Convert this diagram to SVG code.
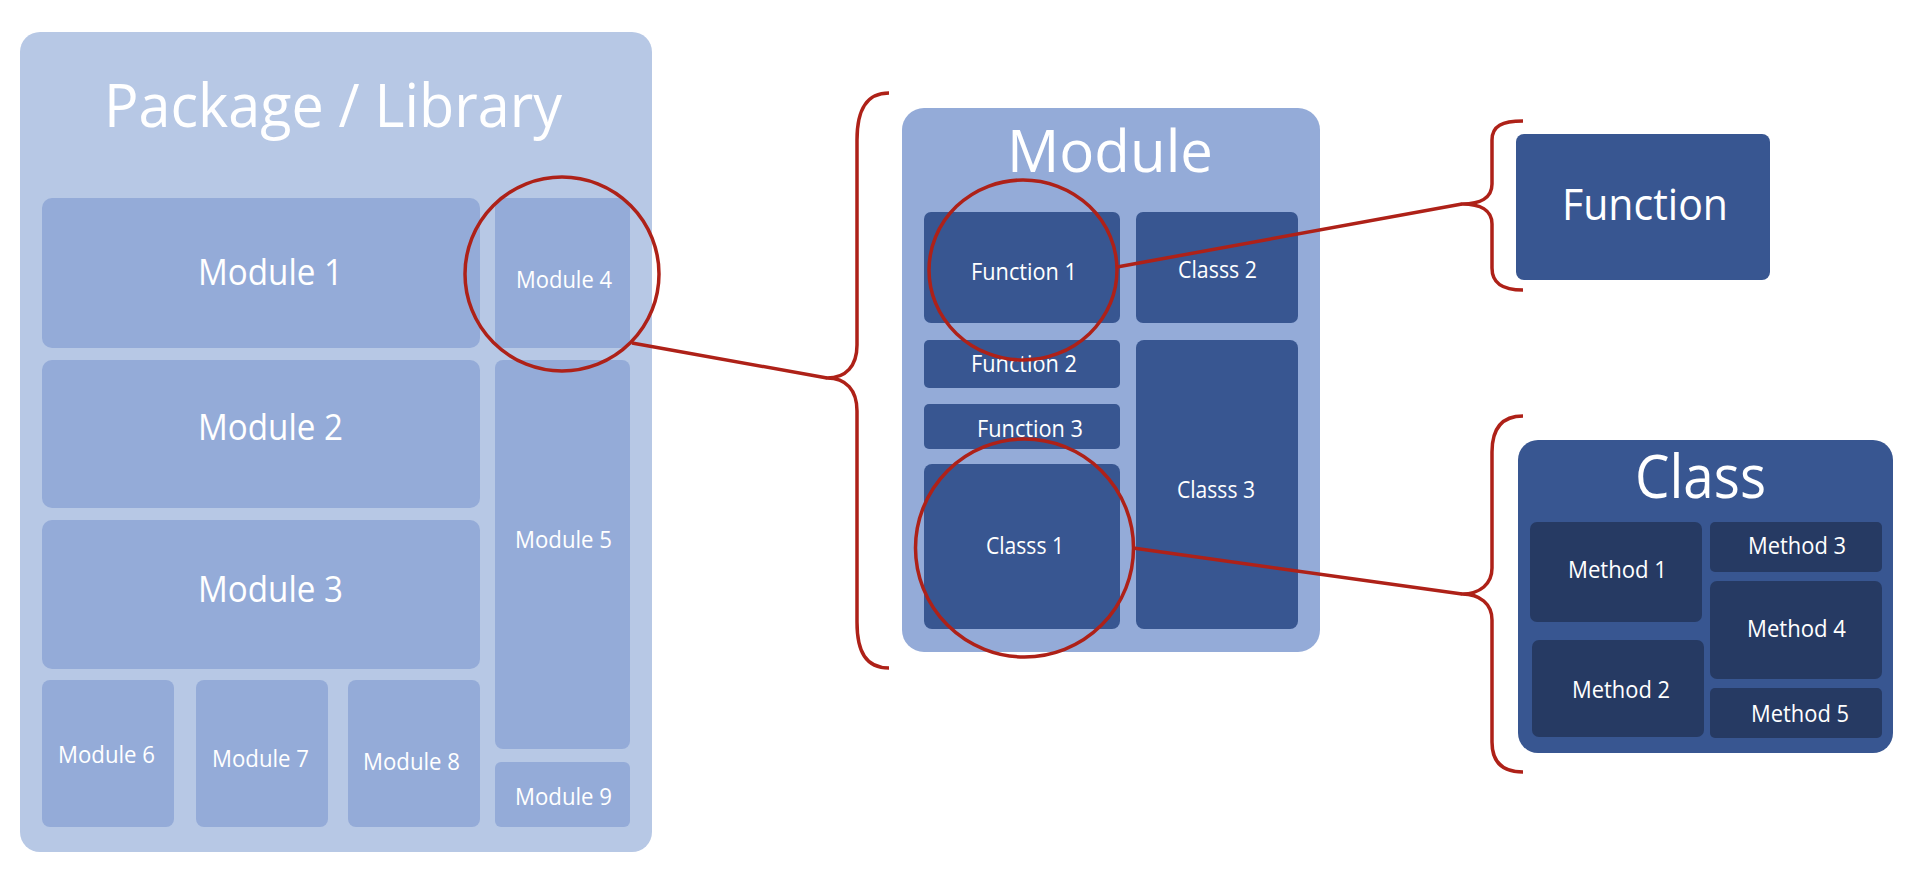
<svg xmlns="http://www.w3.org/2000/svg" width="1918" height="872" viewBox="0 0 1918 872">
<style>
.pkg{fill:#B7C8E5}
.mod{fill:#94ABD8}
.dk{fill:#385691}
.mt{fill:#263A63}
text{font-family:"Open Sans","Noto Sans","Liberation Sans",sans-serif;fill:#FFFFFF}
.s24{font-size:24px}
.s37{font-size:37px}
.big{font-size:60px}
.fn{font-size:44px}
.ln{fill:none;stroke:#AE2118;stroke-width:3.5;stroke-linejoin:round}
</style>
<rect width="1918" height="872" fill="#FFFFFF"/>
<g id="package">
<rect class="pkg" x="20" y="32" width="632" height="820" rx="20"/>
<text class="big" x="104" y="127" textLength="458" lengthAdjust="spacingAndGlyphs">Package / Library</text>
</g>
<g id="module1"><rect class="mod" x="42" y="198" width="438" height="150" rx="10"/><text class="s37" x="198" y="285" textLength="145" lengthAdjust="spacingAndGlyphs">Module 1</text></g>
<g id="module2"><rect class="mod" x="42" y="360" width="438" height="148" rx="10"/><text class="s37" x="198" y="440" textLength="145" lengthAdjust="spacingAndGlyphs">Module 2</text></g>
<g id="module3"><rect class="mod" x="42" y="520" width="438" height="149" rx="10"/><text class="s37" x="198" y="602" textLength="145" lengthAdjust="spacingAndGlyphs">Module 3</text></g>
<g id="module4"><rect class="mod" x="495" y="198" width="135" height="150" rx="8"/><text class="s24" x="516" y="288" textLength="96" lengthAdjust="spacingAndGlyphs">Module 4</text></g>
<g id="module5"><rect class="mod" x="495" y="360" width="135" height="389" rx="8"/><text class="s24" x="515" y="548" textLength="97" lengthAdjust="spacingAndGlyphs">Module 5</text></g>
<g id="module6"><rect class="mod" x="42" y="680" width="132" height="147" rx="8"/><text class="s24" x="58" y="763" textLength="97" lengthAdjust="spacingAndGlyphs">Module 6</text></g>
<g id="module7"><rect class="mod" x="196" y="680" width="132" height="147" rx="8"/><text class="s24" x="212" y="767" textLength="97" lengthAdjust="spacingAndGlyphs">Module 7</text></g>
<g id="module8"><rect class="mod" x="348" y="680" width="132" height="147" rx="8"/><text class="s24" x="363" y="770" textLength="97" lengthAdjust="spacingAndGlyphs">Module 8</text></g>
<g id="module9"><rect class="mod" x="495" y="762" width="135" height="65" rx="6"/><text class="s24" x="515" y="805" textLength="97" lengthAdjust="spacingAndGlyphs">Module 9</text></g>

<g id="module">
<rect class="mod" x="902" y="108" width="418" height="544" rx="22"/>
<text x="1007" y="172" style="font-size:58px" textLength="206" lengthAdjust="spacingAndGlyphs">Module</text>
</g>
<g id="function1"><rect class="dk" x="924" y="212" width="196" height="111" rx="7"/><text class="s24" x="971" y="280" textLength="106" lengthAdjust="spacingAndGlyphs">Function 1</text></g>
<g id="classs2"><rect class="dk" x="1136" y="212" width="162" height="111" rx="7"/><text class="s24" x="1178" y="278" textLength="79" lengthAdjust="spacingAndGlyphs">Classs 2</text></g>
<g id="function2"><rect class="dk" x="924" y="340" width="196" height="48" rx="5"/><text class="s24" x="971" y="372" textLength="106" lengthAdjust="spacingAndGlyphs">Function 2</text></g>
<g id="function3"><rect class="dk" x="924" y="404" width="196" height="45" rx="5"/><text class="s24" x="977" y="437" textLength="106" lengthAdjust="spacingAndGlyphs">Function 3</text></g>
<g id="classs1"><rect class="dk" x="924" y="464" width="196" height="165" rx="8"/><text class="s24" x="986" y="554" textLength="78" lengthAdjust="spacingAndGlyphs">Classs 1</text></g>
<g id="classs3"><rect class="dk" x="1136" y="340" width="162" height="289" rx="8"/><text class="s24" x="1177" y="498" textLength="78" lengthAdjust="spacingAndGlyphs">Classs 3</text></g>

<g id="function">
<rect class="dk" x="1516" y="134" width="254" height="146" rx="8"/>
<text class="fn" x="1562" y="220" textLength="166" lengthAdjust="spacingAndGlyphs">Function</text>
</g>

<g id="class">
<rect class="dk" x="1518" y="440" width="375" height="313" rx="20"/>
<text class="big" x="1635" y="498" textLength="131" lengthAdjust="spacingAndGlyphs">Class</text>
</g>
<g id="method1"><rect class="mt" x="1530" y="522" width="172" height="100" rx="7"/><text class="s24" x="1568" y="578" textLength="99" lengthAdjust="spacingAndGlyphs">Method 1</text></g>
<g id="method2"><rect class="mt" x="1532" y="640" width="172" height="97" rx="7"/><text class="s24" x="1572" y="698" textLength="98" lengthAdjust="spacingAndGlyphs">Method 2</text></g>
<g id="method3"><rect class="mt" x="1710" y="522" width="172" height="50" rx="5"/><text class="s24" x="1748" y="554" textLength="98" lengthAdjust="spacingAndGlyphs">Method 3</text></g>
<g id="method4"><rect class="mt" x="1710" y="581" width="172" height="98" rx="7"/><text class="s24" x="1747" y="637" textLength="99" lengthAdjust="spacingAndGlyphs">Method 4</text></g>
<g id="method5"><rect class="mt" x="1710" y="688" width="172" height="50" rx="5"/><text class="s24" x="1751" y="722" textLength="98" lengthAdjust="spacingAndGlyphs">Method 5</text></g>

<g id="connectors">
<circle class="ln" cx="562" cy="274" r="97"/>
<path class="ln" d="M632,343 L827,378"/>
<path class="ln" d="M889,93 C866,93 857,110 857,140 L857,345 C857,366 846,378 827,378 C846,378 857,390 857,411 L857,622 C857,652 866,668 889,668"/>
<ellipse class="ln" cx="1023" cy="270" rx="94" ry="90"/>
<path class="ln" d="M1117,267 L1462,204"/>
<path class="ln" d="M1523,121 C1502,121 1492,126 1492,140 L1492,184 C1492,198 1480,204 1462,204 C1480,204 1492,210 1492,224 L1492,268 C1492,283 1502,290 1523,290"/>
<circle class="ln" cx="1024.5" cy="548" r="109"/>
<path class="ln" d="M1133,548 L1462,594"/>
<path class="ln" d="M1523,416 C1502,416 1492,428 1492,452 L1492,568 C1492,584 1480,594 1462,594 C1480,594 1492,604 1492,620 L1492,742 C1492,762 1502,772 1523,772"/>
</g>
</svg>
